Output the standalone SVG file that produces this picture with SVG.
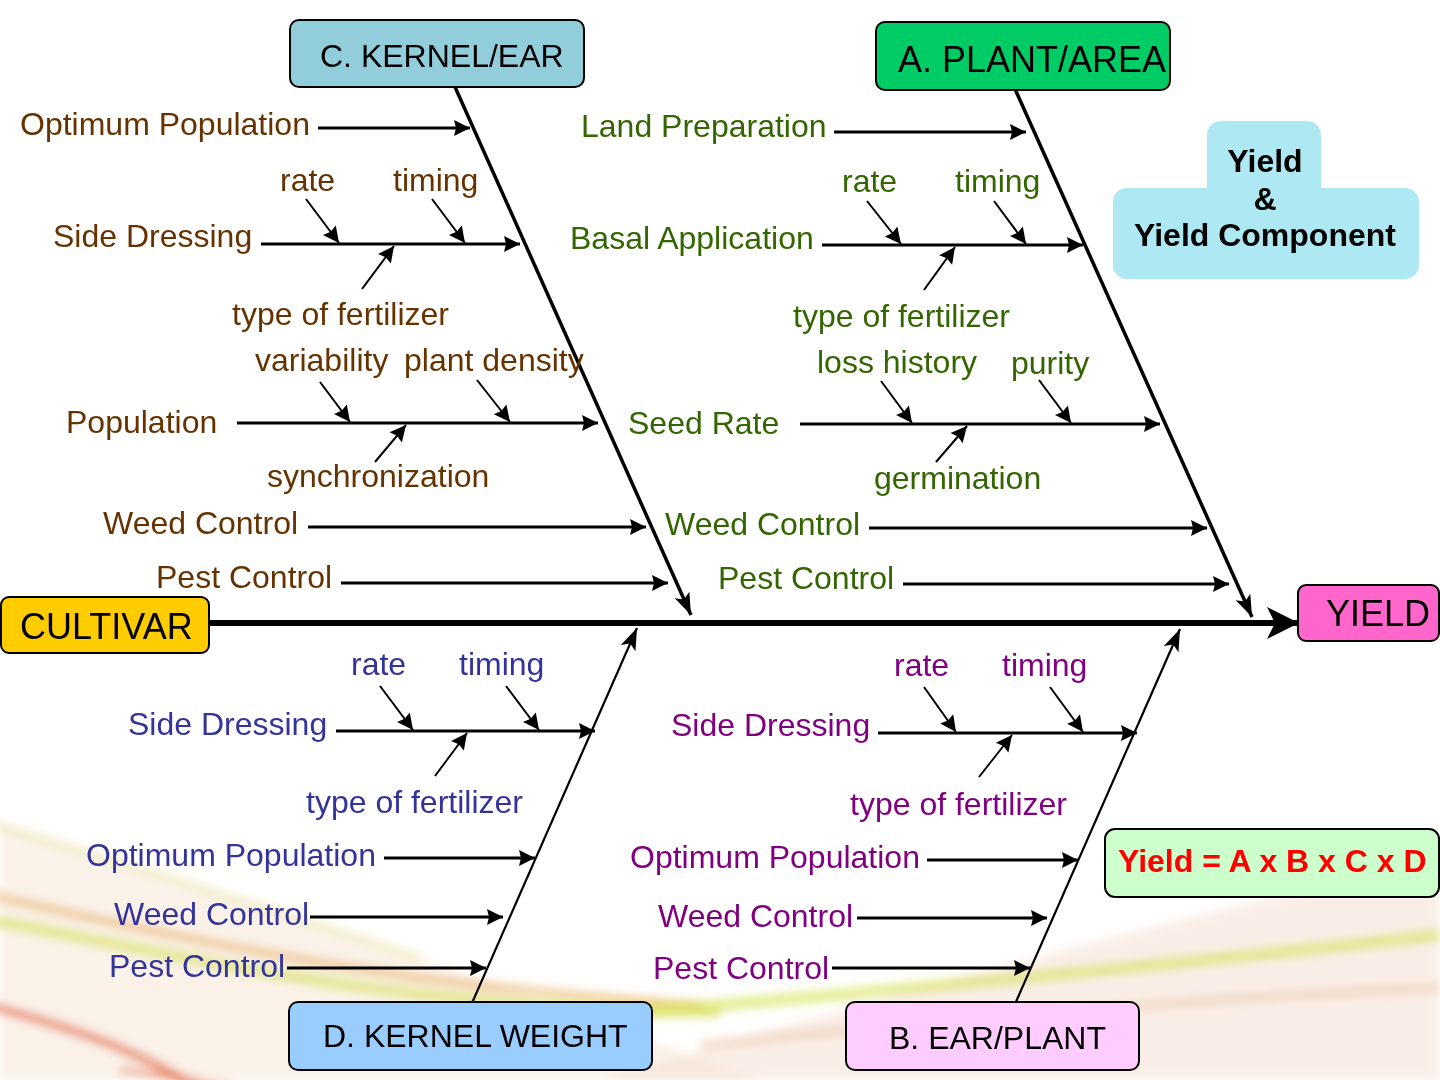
<svg xmlns="http://www.w3.org/2000/svg" width="1440" height="1080" viewBox="0 0 1440 1080">
<defs>
<style>
text{font-family:"Liberation Sans",Arial,sans-serif;font-size:32px}
.br{fill:#663300}.gr{fill:#336600}.bl{fill:#333399}.pu{fill:#800080}
.box{stroke:#000;stroke-width:2}
.bt{fill:#000}
.h{stroke:#000;stroke-width:3;fill:none;marker-end:url(#ah)}
.s{stroke:#000;stroke-width:2;fill:none;marker-end:url(#ah)}
.d1{stroke:#000;stroke-width:3.5;fill:none;marker-end:url(#ad)}
.d2{stroke:#000;stroke-width:2.2;fill:none;marker-end:url(#ad)}
</style>
<marker id="ah" markerUnits="userSpaceOnUse" markerWidth="18" markerHeight="16" refX="16" refY="8" orient="auto" overflow="visible"><path d="M0,0 L16,8 L0,16 L2,8 z" fill="#000"/></marker>
<marker id="ad" markerUnits="userSpaceOnUse" markerWidth="24" markerHeight="18" refX="22" refY="8" orient="auto" overflow="visible"><path d="M0,0 L22,8 L0,16 L5,8 z" fill="#000"/></marker>
<marker id="am" markerUnits="userSpaceOnUse" markerWidth="34" markerHeight="34" refX="30" refY="16" orient="auto" overflow="visible"><path d="M0,0 L32,16 L0,32 L8,16 z" fill="#000"/></marker>
<filter id="blur" x="-20%" y="-20%" width="140%" height="140%"><feGaussianBlur stdDeviation="5"/></filter>
</defs>
<rect width="1440" height="1080" fill="#fff"/>
<g id="background" filter="url(#blur)">
<path d="M0,820 C150,870 400,945 760,1080 L0,1080 z" fill="#f7e9da" opacity="0.6"/>
<path d="M-20,822 C150,870 300,920 420,958" stroke="#ece8b0" stroke-width="8" fill="none" opacity="0.6"/>
<path d="M-20,893 C120,925 260,955 420,978 C520,990 620,1000 700,1005" stroke="#e8a850" stroke-width="8" fill="none" opacity="0.6"/>
<path d="M-20,918 C150,950 300,985 480,1000 C560,1008 640,1012 720,1012" stroke="#d8e060" stroke-width="12" fill="none" opacity="0.65"/>
<path d="M-20,1003 C60,1025 130,1045 200,1090" stroke="#e04a20" stroke-width="9" fill="none" opacity="0.6"/>
<path d="M120,1070 C160,1075 200,1080 240,1090" stroke="#e05020" stroke-width="6" fill="none" opacity="0.5"/>
<path d="M600,1080 C900,990 1200,910 1440,860 L1440,1080 z" fill="#f3ddd0" opacity="0.5"/>
<path d="M640,1012 C900,990 1200,962 1440,935" stroke="#d6e04c" stroke-width="12" fill="none" opacity="0.6"/>
<path d="M700,1045 C1000,1015 1250,995 1440,988" stroke="#ecc8a8" stroke-width="10" fill="none" opacity="0.5"/>
</g>
<g id="connectors">
<line class="d1" x1="455" y1="87" x2="691" y2="615"/>
<line class="d1" x1="1015" y1="89" x2="1252" y2="617"/>
<line class="d2" x1="472" y1="1003" x2="637" y2="628"/>
<line class="d2" x1="1015" y1="1004" x2="1180" y2="629"/>
<line x1="209" y1="623" x2="1297" y2="623" stroke="#000" stroke-width="6" marker-end="url(#am)"/>
<line class="h" x1="318" y1="128" x2="470" y2="128"/>
<line class="h" x1="261" y1="244" x2="520" y2="244"/>
<line class="s" x1="306" y1="199" x2="339" y2="243"/>
<line class="s" x1="432" y1="199" x2="465" y2="243"/>
<line class="s" x1="362" y1="289" x2="394" y2="246"/>
<line class="h" x1="237" y1="423" x2="598" y2="423"/>
<line class="s" x1="320" y1="382" x2="350" y2="422"/>
<line class="s" x1="477" y1="380" x2="510" y2="422"/>
<line class="s" x1="375" y1="462" x2="406" y2="425"/>
<line class="h" x1="308" y1="527" x2="646" y2="527"/>
<line class="h" x1="341" y1="583" x2="668" y2="583"/>
<line class="h" x1="834" y1="132" x2="1026" y2="132"/>
<line class="h" x1="822" y1="245" x2="1083" y2="245"/>
<line class="s" x1="867" y1="201" x2="901" y2="244"/>
<line class="s" x1="994" y1="201" x2="1026" y2="244"/>
<line class="s" x1="924" y1="290" x2="955" y2="247"/>
<line class="h" x1="800" y1="424" x2="1160" y2="424"/>
<line class="s" x1="881" y1="381" x2="912" y2="423"/>
<line class="s" x1="1039" y1="380" x2="1071" y2="423"/>
<line class="s" x1="936" y1="462" x2="967" y2="426"/>
<line class="h" x1="869" y1="528" x2="1207" y2="528"/>
<line class="h" x1="903" y1="584" x2="1229" y2="584"/>
<line class="h" x1="336" y1="731" x2="595" y2="731"/>
<line class="s" x1="380" y1="686" x2="413" y2="730"/>
<line class="s" x1="506" y1="686" x2="539" y2="730"/>
<line class="s" x1="435" y1="776" x2="467" y2="733"/>
<line class="h" x1="384" y1="858" x2="535" y2="858"/>
<line class="h" x1="310" y1="917" x2="503" y2="917"/>
<line class="h" x1="287" y1="968" x2="486" y2="968"/>
<line class="h" x1="878" y1="733" x2="1137" y2="733"/>
<line class="s" x1="924" y1="687" x2="956" y2="732"/>
<line class="s" x1="1050" y1="687" x2="1083" y2="732"/>
<line class="s" x1="979" y1="777" x2="1012" y2="735"/>
<line class="h" x1="927" y1="860" x2="1078" y2="860"/>
<line class="h" x1="857" y1="918" x2="1047" y2="918"/>
<line class="h" x1="832" y1="968" x2="1030" y2="968"/>
</g>
<g id="labels-C">
<text class="br" x="20" y="135">Optimum Population</text>
<text class="br" x="280" y="191">rate</text>
<text class="br" x="393" y="191">timing</text>
<text class="br" x="53" y="247">Side Dressing</text>
<text class="br" x="232" y="325">type of fertilizer</text>
<text class="br" x="255" y="371">variability</text>
<text class="br" x="404" y="371">plant density</text>
<text class="br" x="66" y="433">Population</text>
<text class="br" x="267" y="487">synchronization</text>
<text class="br" x="103" y="534">Weed Control</text>
<text class="br" x="156" y="588">Pest Control</text>
</g>
<g id="labels-A">
<text class="gr" x="581" y="137">Land Preparation</text>
<text class="gr" x="842" y="192">rate</text>
<text class="gr" x="955" y="192">timing</text>
<text class="gr" x="570" y="249">Basal Application</text>
<text class="gr" x="793" y="327">type of fertilizer</text>
<text class="gr" x="817" y="373">loss history</text>
<text class="gr" x="1011" y="374">purity</text>
<text class="gr" x="628" y="434">Seed Rate</text>
<text class="gr" x="874" y="489">germination</text>
<text class="gr" x="665" y="535">Weed Control</text>
<text class="gr" x="718" y="589">Pest Control</text>
</g>
<g id="labels-D">
<text class="bl" x="351" y="675">rate</text>
<text class="bl" x="459" y="675">timing</text>
<text class="bl" x="128" y="735">Side Dressing</text>
<text class="bl" x="306" y="813">type of fertilizer</text>
<text class="bl" x="86" y="866">Optimum Population</text>
<text class="bl" x="114" y="925">Weed Control</text>
<text class="bl" x="109" y="977">Pest Control</text>
</g>
<g id="labels-B">
<text class="pu" x="894" y="676">rate</text>
<text class="pu" x="1002" y="676">timing</text>
<text class="pu" x="671" y="736">Side Dressing</text>
<text class="pu" x="850" y="815">type of fertilizer</text>
<text class="pu" x="630" y="868">Optimum Population</text>
<text class="pu" x="658" y="927">Weed Control</text>
<text class="pu" x="653" y="979">Pest Control</text>
</g>
<g id="node-cultivar">
<rect class="box" x="1" y="597" width="208" height="56" rx="8" fill="#FFCC00"/>
<text class="bt" x="20" y="639" style="font-size:36px">CULTIVAR</text>
</g>
<g id="node-yield">
<rect class="box" x="1298" y="585" width="141" height="56" rx="8" fill="#FF66CC"/>
<text class="bt" x="1326" y="626" style="font-size:36px">YIELD</text>
</g>
<g id="node-C">
<rect class="box" x="290" y="20" width="294" height="67" rx="9" fill="#92CDDC"/>
<text class="bt" x="320" y="67">C. KERNEL/EAR</text>
</g>
<g id="node-A">
<rect class="box" x="876" y="22" width="294" height="68" rx="9" fill="#00CC66"/>
<text class="bt" x="898" y="72" style="font-size:36px">A. PLANT/AREA</text>
</g>
<g id="node-D">
<rect class="box" x="289" y="1002" width="363" height="68" rx="9" fill="#99CCFF"/>
<text class="bt" x="323" y="1047">D. KERNEL WEIGHT</text>
</g>
<g id="node-B">
<rect class="box" x="846" y="1002" width="293" height="68" rx="9" fill="#FFCCFF"/>
<text class="bt" x="889" y="1049">B. EAR/PLANT</text>
</g>
<g id="node-yield-component">
<rect x="1207" y="121" width="114" height="90" rx="14" fill="#AEE8F2"/>
<rect x="1113" y="188" width="306" height="91" rx="14" fill="#AEE8F2"/>
<g text-anchor="middle">
<text class="bt" x="1265" y="172" style="font-weight:bold;font-size:32px">Yield</text>
<text class="bt" x="1265" y="210" style="font-weight:bold;font-size:32px">&amp;</text>
<text class="bt" x="1265" y="246" style="font-weight:bold;font-size:32px">Yield Component</text>
</g>
</g>
<g id="node-formula">
<rect class="box" x="1105" y="829" width="334" height="68" rx="10" fill="#CCFFCC"/>
<text x="1118" y="872" style="font-weight:bold;fill:#FF0000">Yield = A x B x C x D</text>
</g>
</svg>
